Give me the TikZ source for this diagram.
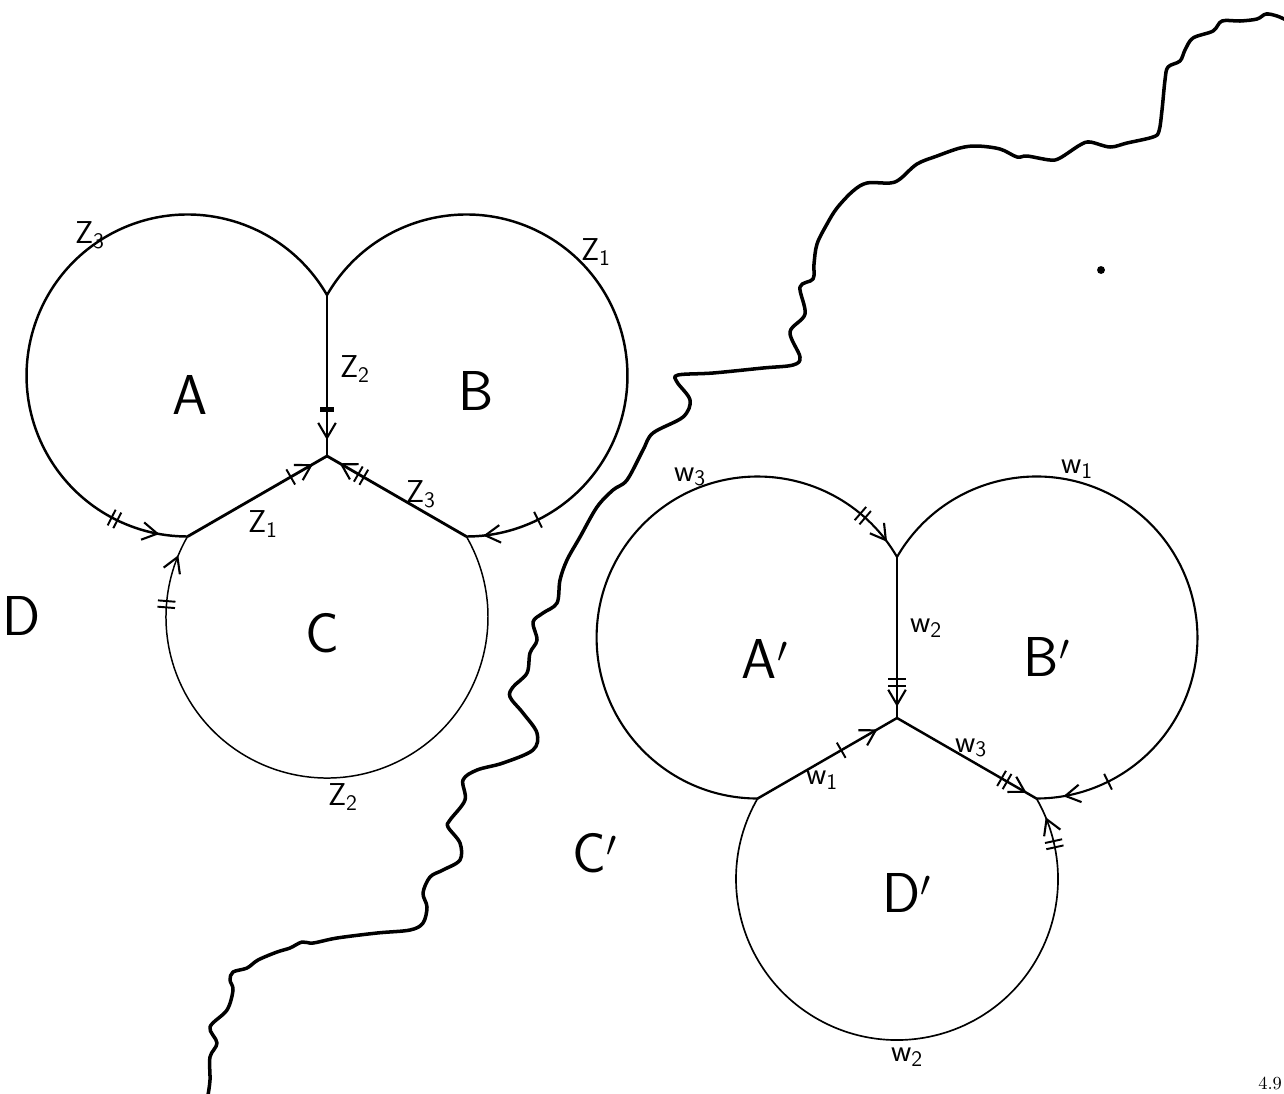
\documentclass[tikz,border=0pt]{standalone}
\usepackage{fontspec}
\usetikzlibrary{decorations.markings,arrows.meta}
\tikzset{
  onetick/.style={postaction={decorate,decoration={markings,mark=at position #1 with {\draw[line width=1.1pt] (0pt,-5pt) -- (0pt,5pt);}}}},
  twotick/.style={postaction={decorate,decoration={markings,mark=at position #1 with {\draw[line width=1.1pt] (-1.8pt,-5pt) -- (-1.8pt,5pt) (1.8pt,-5pt) -- (1.8pt,5pt);}}}},
  closetick/.style={postaction={decorate,decoration={markings,mark=at position #1 with {\fill (-1.6pt,-4.2pt) rectangle (1.6pt,4.2pt);}}}},
  arrowat/.style={postaction={decorate,decoration={markings,mark=at position #1 with {\arrow[line width=1.2pt]{Straight Barb[length=8.5pt,width=10pt]}}}}},
  outerarc/.style={line width=1.4pt},
  thinarc/.style={line width=0.85pt},
  edgeline/.style={line width=1.6pt},
  river/.style={line width=2pt,line join=round,line cap=round},
  bigl/.style={font=\fontsize{32}{36}\selectfont\sffamily},
  zl/.style={font=\fontsize{18}{20}\selectfont\sffamily},
  wl/.style={font=\fontsize{18}{20}\selectfont\sffamily},
}
\begin{document}
\begin{tikzpicture}[x=0.02cm,y=-0.02cm]
\useasboundingbox (0,0) rectangle (1284,1093);
% ---------- left figure ----------
\coordinate (J) at (327,456);
\coordinate (K) at (327,295);
\coordinate (P1) at (187.6,536.5);
\coordinate (P2) at (466.4,536.5);
\draw[outerarc, twotick=0.8875, arrowat=0.958] (K) arc[start angle=330, end angle=90, radius=161];
\draw[outerarc, onetick=0.89, arrowat=0.975] (K) arc[start angle=210, end angle=450, radius=161];
\draw[thinarc, twotick=0.894, arrowat=0.969] (P2) arc[start angle=-30, end angle=210, radius=161];
\draw[edgeline, closetick=0.71, arrowat=0.9] (K) -- (J);
\draw[edgeline, onetick=0.74, arrowat=0.9] (P1) -- (J);
\draw[edgeline, twotick=0.756, arrowat=0.91] (P2) -- (J);
\node[bigl] (lA) at (190,395) {A};
\node[bigl] (lB) at (476,391) {B};
\node[bigl] (lC) at (322,633) {C};
\node[bigl] (lD) at (22,616) {D};
\node[zl] (z3a) at (90,235) {Z\textsubscript{3}};
\node[zl] (z1a) at (596,252) {Z\textsubscript{1}};
\node[zl] (z2a) at (355,369) {Z\textsubscript{2}};
\node[zl] (z1b) at (263,524) {Z\textsubscript{1}};
\node[zl] (z3b) at (421,494) {Z\textsubscript{3}};
\node[zl] (z2b) at (343,797) {Z\textsubscript{2}};
% ---------- right figure ----------
\coordinate (Jr) at (897,718);
\coordinate (Kr) at (897,557);
\coordinate (P4) at (757.6,798.5);
\coordinate (P3) at (1036.4,798.5);
\draw[outerarc, line width=1.2pt, twotick=0.92, arrowat=0.973] (P4) arc[start angle=90, end angle=330, radius=161];
\draw[outerarc, line width=1.2pt, onetick=0.89, arrowat=0.96] (Kr) arc[start angle=210, end angle=450, radius=161];
\draw[thinarc, line width=0.95pt, twotick=0.927, arrowat=0.969] (P4) arc[start angle=210, end angle=-30, radius=161];
\draw[edgeline, line width=1.4pt, twotick=0.78, arrowat=0.93] (Kr) -- (Jr);
\draw[edgeline, line width=1.4pt, onetick=0.6, arrowat=0.86] (P4) -- (Jr);
\draw[edgeline, line width=1.4pt, twotick=0.77, arrowat=0.93] (Jr) -- (P3);
\node[bigl] (lAp) at (765,659) {A$'$};
\node[bigl] (lBp) at (1047,657) {B$'$};
\node[bigl] (lDp) at (907,893) {D$'$};
\node[bigl] (lCp) at (595,853) {C$'$};
\node[wl] (w3a) at (690,477) {w\textsubscript{3}};
\node[wl] (w1a) at (1077,469) {w\textsubscript{1}};
\node[wl] (w2a) at (926,628) {w\textsubscript{2}};
\node[wl] (w1b) at (822,780) {w\textsubscript{1}};
\node[wl] (w3b) at (971,748) {w\textsubscript{3}};
\node[wl] (w2b) at (907,1057) {w\textsubscript{2}};
% ---------- wavy boundary ----------
\draw[river] plot[smooth, tension=0.55] coordinates {
(1286,20) (1277,16) (1266,14) (1257,19) (1240,21) (1222,21) (1213,31) (1193,38) (1185,50) (1180,61) (1168,67) (1165,80) (1162,110) (1159,131) (1153,137) (1127,143) (1110,147) (1090,142) (1080,145) (1060,158) (1050,160) (1027,156) (1017,157) (1000,149) (977,146) (960,148) (937,156) (917,164) (900,179) (890,183) (867,183) (853,191) (837,208) (827,224) (817,244) (814,264) (813,279) (800,287) (805,314) (790,332) (800,357) (793,365) (763,368) (713,373) (678,375) (677,382) (690,400) (683,417) (653,433) (643,450) (627,480) (613,490) (597,507) (580,537) (567,560) (560,580) (557,603) (543,613) (533,622) (537,640) (530,653) (527,673) (513,687) (510,697) (523,713) (537,733) (533,750) (503,763) (477,770) (463,780) (465,800) (450,820) (448,827) (460,843) (460,860) (443,870) (430,877) (423,893) (427,907) (423,923) (410,930) (377,933) (337,938) (313,943) (302,942) (290,948) (277,952) (258,960) (247,968) (233,972) (230,980) (233,990) (227,1010) (210,1027) (217,1043) (210,1057) (210,1080) (208,1095)};
% ---------- marks ----------
\node[circle, fill, inner sep=0pt, minimum size=4.5pt] (dot) at (1101,270) {};
\node[font=\fontsize{10.5}{12}\selectfont, anchor=south east, inner sep=1pt] (pg) at (1284,1092) {4.9};
\end{tikzpicture}
\end{document}
